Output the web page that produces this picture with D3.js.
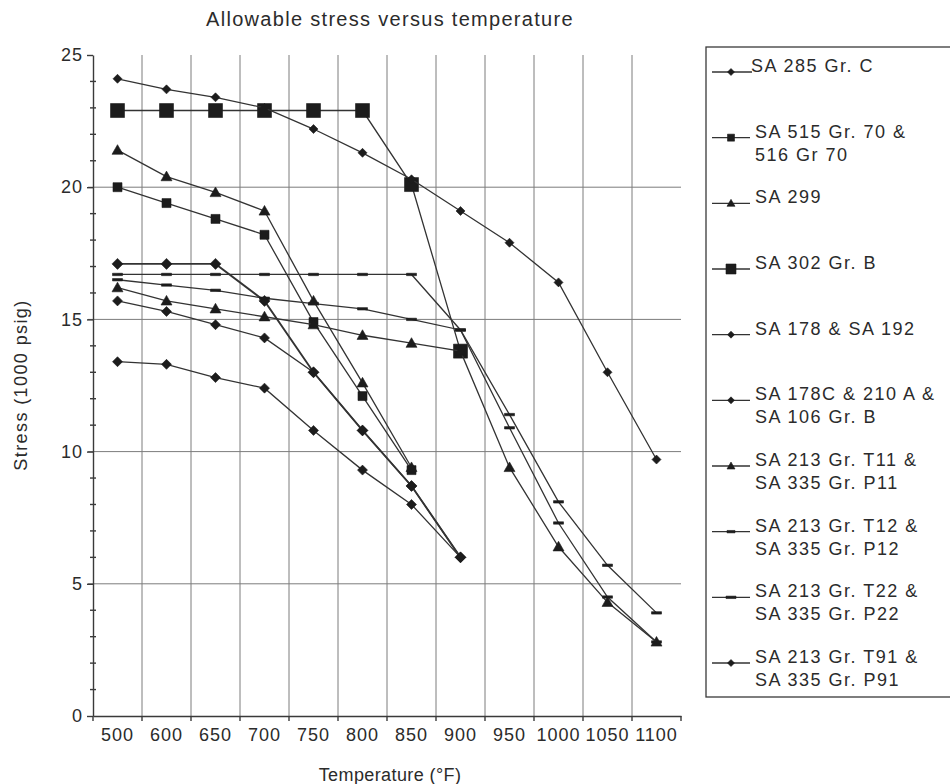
<!DOCTYPE html>
<html lang="en">

<head>
  <meta charset="utf-8">
  <title>Allowable stress versus temperature</title>
  <script src="https://d3js.org/d3.v7.min.js"></script>
  <style>
    body {
      margin: 0;
      padding: 0;
      background: #fff;
      overflow: hidden;
    }

    svg {
      display: block;
    }

    svg text {
      font-family: "Liberation Sans", Arial, sans-serif;
      fill: #2b2b2b;
    }

    .grid line {
      stroke: #7c7c7c;
      stroke-width: 1;
    }

    .axis path,
    .axis line {
      stroke: #3a3a3a;
      stroke-width: 1.4;
    }

    .axis text {
      font-size: 18px;
      letter-spacing: 1px;
    }

    .series path.line {
      fill: none;
      stroke: #333;
    }

    .marker {
      fill: #1c1c1c;
      stroke: #1c1c1c;
      stroke-width: 0.6;
    }

    .legend text {
      font-size: 18px;
      letter-spacing: 1.5px;
    }
  </style>
</head>

<body>
  <svg id="chart" width="950" height="784"></svg>

  <script>
    // Temperature categories (°F)
    const temperatures = ["500", "600", "650", "700", "750", "800", "850", "900", "950", "1000", "1050", "1100"];

    // Allowable stress (1000 psig)
    const sa285GrC = [15.7, 15.3, 14.8, 14.3, 13.0, 10.8, 8.7, 6.0];
    const sa515Gr70 = [20.0, 19.4, 18.8, 18.2, 14.9, 12.1, 9.3];
    const sa299 = [21.4, 20.4, 19.8, 19.1, 15.7, 12.6, 9.4];
    const sa302GrB = [22.9, 22.9, 22.9, 22.9, 22.9, 22.9, 20.1, 13.8];
    const sa178And192 = [13.4, 13.3, 12.8, 12.4, 10.8, 9.3, 8.0, 6.0];
    const sa178cAnd106B = [17.1, 17.1, 17.1, 15.7, 13.0, 10.8, 8.7, 6.0];
    const t11P11 = [16.2, 15.7, 15.4, 15.1, 14.8, 14.4, 14.1, 13.8, 9.4, 6.4, 4.3, 2.8];
    const t12P12 = [16.5, 16.3, 16.1, 15.8, 15.6, 15.4, 15.0, 14.6, 10.9, 7.3, 4.5, 2.8];
    const t22P22 = [16.7, 16.7, 16.7, 16.7, 16.7, 16.7, 16.7, 14.6, 11.4, 8.1, 5.7, 3.9];
    const t91P91 = [24.1, 23.7, 23.4, 23.0, 22.2, 21.3, 20.3, 19.1, 17.9, 16.4, 13.0, 9.7];

    // Legend labels (one entry per series, split on two lines where the chart does)
    const seriesLabels = [
      ["SA 285 Gr. C"],
      ["SA 515 Gr. 70 &", "516 Gr 70"],
      ["SA 299"],
      ["SA 302 Gr. B"],
      ["SA 178 & SA 192"],
      ["SA 178C & 210 A &", "SA 106 Gr. B"],
      ["SA 213 Gr. T11 &", "SA 335 Gr. P11"],
      ["SA 213 Gr. T12 &", "SA 335 Gr. P12"],
      ["SA 213 Gr. T22 &", "SA 335 Gr. P22"],
      ["SA 213 Gr. T91 &", "SA 335 Gr. P91"]
    ];
    const seriesValues = [sa285GrC, sa515Gr70, sa299, sa302GrB, sa178And192,
      sa178cAnd106B, t11P11, t12P12, t22P22, t91P91];

    // Marker look per series: [shape, half size in chart, half size in legend, line width]
    const markerStyles = [
      ["diamond", 5, 3.5, 1.3],
      ["square", 4.5, 3.5, 1.3],
      ["triangle", 5.5, 4, 1.3],
      ["square", 7, 5, 1.3],
      ["diamond", 5, 3.5, 1.3],
      ["diamond", 5.5, 3.5, 1.9],
      ["triangle", 5.5, 4, 1.3],
      ["dash", 5, 4, 1.3],
      ["dash", 5, 5, 1.3],
      ["diamond", 4.5, 3.5, 1.3]
    ];

    const series = seriesLabels.map((label, i) => ({
      label: label,
      values: seriesValues[i],
      shape: markerStyles[i][0],
      r: markerStyles[i][1],
      rLegend: markerStyles[i][2],
      width: markerStyles[i][3]
    }));

    const svg = d3.select("#chart");

    const x = d3.scaleBand().domain(temperatures).range([93, 681]);
    const y = d3.scaleLinear().domain([0, 25]).range([716, 55]);
    const cx = t => x(t) + x.bandwidth() / 2;

    function markerPath(shape, s) {
      if (shape === "diamond") return `M0,${-s}L${s},0L0,${s}L${-s},0Z`;
      if (shape === "square") return `M${-s},${-s}H${s}V${s}H${-s}Z`;
      if (shape === "triangle") return `M0,${-s}L${s},${s * 0.75}L${-s},${s * 0.75}Z`;
      return `M${-s},-1.2H${s}V1.2H${-s}Z`; // dash
    }

    // Gridlines
    const grid = svg.append("g").attr("class", "grid");
    grid.selectAll("line.v")
      .data(temperatures.slice(1))
      .enter().append("line")
      .attr("x1", d => x(d)).attr("x2", d => x(d))
      .attr("y1", y(25)).attr("y2", y(0));
    grid.selectAll("line.h")
      .data([5, 10, 15, 20])
      .enter().append("line")
      .attr("x1", 88).attr("x2", x.range()[1])
      .attr("y1", d => y(d)).attr("y2", d => y(d));

    // Y axis with minor ticks every 1000 psig
    const yAxis = svg.append("g")
      .attr("class", "axis")
      .attr("transform", `translate(${x.range()[0]},0)`)
      .call(d3.axisLeft(y).tickValues(d3.range(0, 26, 5)).tickSize(6).tickSizeOuter(0).tickPadding(4));
    yAxis.selectAll(".minor")
      .data(d3.range(0, 26).filter(v => v % 5 !== 0))
      .enter().append("line")
      .attr("class", "minor")
      .attr("x1", -3).attr("x2", 3)
      .attr("y1", d => y(d)).attr("y2", d => y(d));

    // X axis: labels at category centres, ticks between categories
    const xAxis = svg.append("g")
      .attr("class", "axis")
      .attr("transform", `translate(0,${y(0)})`)
      .call(d3.axisBottom(x).tickSize(0).tickSizeOuter(0).tickPadding(12));
    xAxis.selectAll(".boundary")
      .data(d3.range(temperatures.length + 1))
      .enter().append("line")
      .attr("class", "boundary")
      .attr("x1", i => x.range()[0] + i * x.bandwidth())
      .attr("x2", i => x.range()[0] + i * x.bandwidth())
      .attr("y1", 0).attr("y2", 5);

    // Series lines and markers
    const line = d3.line()
      .x((d, i) => cx(temperatures[i]))
      .y(d => y(d));

    const seriesG = svg.append("g").selectAll("g")
      .data(series)
      .enter().append("g")
      .attr("class", "series");

    seriesG.append("path")
      .attr("class", "line")
      .attr("d", d => line(d.values))
      .attr("stroke-width", d => d.width);

    seriesG.each(function (s) {
      d3.select(this).selectAll("path.marker")
        .data(s.values)
        .enter().append("path")
        .attr("class", "marker")
        .attr("transform", (v, i) => `translate(${cx(temperatures[i])},${y(v)})`)
        .attr("d", markerPath(s.shape, s.r));
    });

    // Titles
    svg.append("text")
      .attr("x", 390).attr("y", 26)
      .attr("text-anchor", "middle")
      .style("font-size", "20px")
      .style("letter-spacing", "1.3px")
      .text("Allowable stress versus temperature");

    svg.append("text")
      .attr("x", 390).attr("y", 781)
      .attr("text-anchor", "middle")
      .style("font-size", "18px")
      .style("letter-spacing", "0.4px")
      .text("Temperature (°F)");

    svg.append("text")
      .attr("transform", "translate(27,385) rotate(-90)")
      .attr("text-anchor", "middle")
      .style("font-size", "18px")
      .style("letter-spacing", "1.4px")
      .text("Stress (1000 psig)");

    // Legend
    const legend = svg.append("g").attr("class", "legend");
    legend.append("rect")
      .attr("x", 706).attr("y", 47)
      .attr("width", 320).attr("height", 650)
      .attr("fill", "none")
      .attr("stroke", "#3a3a3a")
      .attr("stroke-width", 1.3);

    const rowY = d3.scalePoint()
      .domain(series.map((s, i) => i))
      .range([72, 663]);

    const rows = legend.selectAll("g.row")
      .data(series)
      .enter().append("g")
      .attr("class", "row")
      .attr("transform", (d, i) => `translate(0,${rowY(i)})`);

    rows.append("line")
      .attr("x1", 712).attr("x2", (d, i) => i === 0 ? 752 : 750)
      .attr("y1", 0).attr("y2", 0)
      .attr("stroke", "#333")
      .attr("stroke-width", 1.3);

    rows.append("path")
      .attr("class", "marker")
      .attr("transform", "translate(731,0)")
      .attr("d", d => markerPath(d.shape, d.rLegend));

    rows.append("text")
      .attr("y", 0)
      .attr("dy", "0.36em")
      .selectAll("tspan")
      .data((d, i) => d.label.map(t => ({ t: t, first: i === 0 })))
      .enter().append("tspan")
      .attr("x", d => d.first ? 751 : 755)
      .attr("dy", (d, j) => j === 0 ? 0 : 23)
      .text(d => d.t);
  </script>
</body>

</html>
